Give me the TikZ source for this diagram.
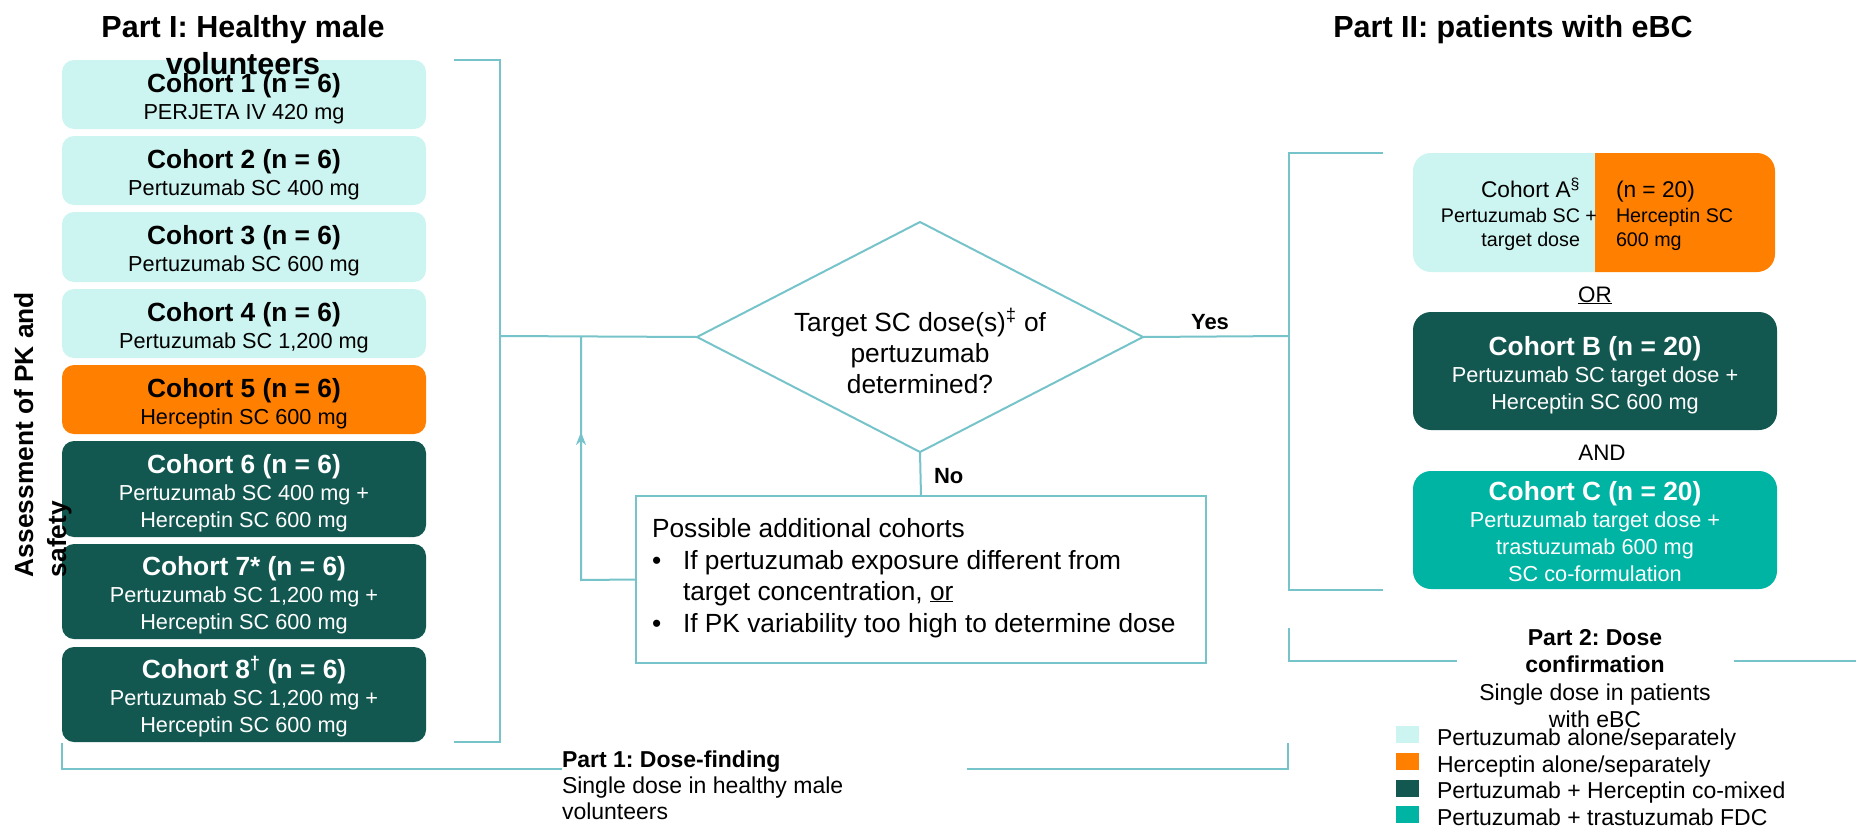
\documentclass[tikz,border=0pt]{standalone}
\usepackage{fontspec}
\setmainfont{Liberation Sans}
\usetikzlibrary{shapes.geometric,arrows.meta}
\frenchspacing
\definecolor{lightC}{HTML}{CCF4F0}
\definecolor{orangeC}{HTML}{FF7F00}
\definecolor{darkC}{HTML}{135850}
\definecolor{tealC}{HTML}{00B4A4}
\definecolor{lineC}{HTML}{76C3CA}
\newcommand\xTitle{\fontsize{30.5}{36}\selectfont\bfseries}
\newcommand\xCoh{\fontsize{26.3}{27}\selectfont\bfseries}
\newcommand\xSub{\fontsize{21.7}{27}\selectfont}
\newcommand\xDia{\fontsize{26.3}{31}\selectfont}
\newcommand\xLeg{\fontsize{23}{27}\selectfont}
\newcommand\xLegB{\fontsize{23}{27}\selectfont\bfseries}
\newcommand\xYN{\fontsize{22}{26}\selectfont\bfseries}
\newcommand\xCA{\fontsize{22.7}{25}\selectfont}
\newcommand\xCAs{\fontsize{19.7}{25}\selectfont}
\newcommand\xOR{\fontsize{22.4}{26}\selectfont}
\newcommand\xRot{\fontsize{26.3}{33}\selectfont\bfseries}
\newcommand\tstrut{\rule{0pt}{27pt}}
\newcommand\bstrut{\rule[-4.6pt]{0pt}{4.6pt}}
\begin{document}
\frenchspacing
\begin{tikzpicture}[x=1pt,y=-1pt,
  every node/.style={inner sep=0pt, outer sep=0pt},
  ln/.style={draw=lineC, line width=2pt},
  cbox/.style={rounded corners=12pt, minimum width=364pt, align=center, font=\xSub},
  rbox/.style={rounded corners=18pt, minimum width=364pt, minimum height=118pt, align=center, font=\xSub, text=white},
  swatch/.style={minimum width=23pt, minimum height=17pt}]
\useasboundingbox (0,0) rectangle (1856,830);

% ---------- Part I cohorts ----------
\node[cbox, fill=lightC, minimum height=69pt] (c1) at (244,94.5) {\tstrut{\xCoh Cohort 1 (n = 6)}\\PERJETA IV 420 mg};
\node[cbox, fill=lightC, minimum height=69pt] (c2) at (244,170.5) {\tstrut{\xCoh Cohort 2 (n = 6)}\\Pertuzumab SC 400 mg};
\node[cbox, fill=lightC, minimum height=70pt] (c3) at (244,247) {\tstrut{\xCoh Cohort 3 (n = 6)}\\Pertuzumab SC 600 mg};
\node[cbox, fill=lightC, minimum height=69pt] (c4) at (244,323.5) {\tstrut{\xCoh Cohort 4 (n = 6)}\\Pertuzumab SC 1,200 mg};
\node[cbox, fill=orangeC, minimum height=69pt] (c5) at (244,399.5) {\tstrut{\xCoh Cohort 5 (n = 6)}\\Herceptin SC 600 mg};
\node[cbox, fill=darkC, text=white, minimum height=96pt] (c6) at (244,489) {\tstrut{\xCoh Cohort 6 (n = 6)}\\Pertuzumab SC 400 mg +\\Herceptin SC 600 mg};
\node[cbox, fill=darkC, text=white, minimum height=95pt] (c7) at (244,591.5) {\tstrut{\xCoh Cohort 7* (n = 6)}\\Pertuzumab SC 1,200 mg +\\Herceptin SC 600 mg};
\node[cbox, fill=darkC, text=white, minimum height=95pt] (c8) at (244,694.5) {\tstrut{\xCoh Cohort 8\textsuperscript{†} (n = 6)}\\Pertuzumab SC 1,200 mg +\\Herceptin SC 600 mg};

% titles
\node[anchor=base, font=\xTitle] (t1a) at (243,37) {Part I: Healthy male};
\node[anchor=base, font=\xTitle] (t1b) at (243,74) {volunteers};
\node[anchor=base, font=\xTitle] (t2) at (1513,37) {Part II: patients with eBC};

% rotated side label
\node[rotate=90, anchor=base west, font=\xRot] (rot1) at (33,577) {Assessment of PK and};
\node[rotate=90, anchor=base west, font=\xRot] (rot2) at (66,577) {safety};

% ---------- left bracket ----------
\coordinate (lbt) at (454,60);
\coordinate (lbtc) at (500,60);
\coordinate (lbbc) at (500,742);
\coordinate (lbb) at (454,742);
\coordinate (lbm) at (500,336);
\draw[ln] (lbt) -- (lbtc) -- (lbbc) -- (lbb);

% ---------- decision ----------
\node[diamond, draw=lineC, line width=2pt, minimum width=446pt, minimum height=230pt] (dec) at (920,337) {};
\node[anchor=base, font=\xDia] (d1) at (920,331) {Target SC dose(s)\textsuperscript{‡} of};
\node[anchor=base, font=\xDia] (d2) at (920,362) {pertuzumab};
\node[anchor=base, font=\xDia] (d3) at (920,393) {determined?};
\draw[ln] (lbm) -- (dec.west);

% additional cohorts box
\node[draw=lineC, line width=2pt, minimum width=570pt, minimum height=167pt] (addbox) at (921,579.5) {};
\node[anchor=base west, font=\xDia] (a1) at (652,537) {Possible additional cohorts};
\node[anchor=base west, font=\xDia] (ab1) at (652,569) {\textbullet};
\node[anchor=base west, font=\xDia] (a2) at (683,569) {If pertuzumab exposure different from};
\node[anchor=base west, font=\xDia] (a3) at (683,600) {target concentration, \underline{or}};
\node[anchor=base west, font=\xDia] (ab2) at (652,632) {\textbullet};
\node[anchor=base west, font=\xDia] (a4) at (683,632) {If PK variability too high to determine dose};

\draw[ln] (dec.south) -- (addbox.north);
\node[anchor=base west, font=\xYN] (no) at (934,483) {No};

% feedback loop
\coordinate (fbc) at (581,580);
\coordinate (fbtop) at (581,336);
\coordinate (fbarr) at (581,432);
\draw[ln] (addbox.west) -- (fbc) -- (fbtop);
\draw[ln, -{Stealth[length=13pt, width=10pt, inset=4pt]}] (fbc) -- (fbarr);

% yes branch
\coordinate (rbm) at (1289,336);
\draw[ln] (dec.east) -- (rbm);
\node[anchor=base, font=\xYN] (yes) at (1210,329) {Yes};

% ---------- right bracket ----------
\coordinate (rbt) at (1383,153);
\coordinate (rbtc) at (1289,153);
\coordinate (rbbc) at (1289,590);
\coordinate (rbb) at (1383,590);
\draw[ln] (rbt) -- (rbtc) -- (rbbc) -- (rbb);

% ---------- Part II cohorts ----------
\begin{scope}
  \clip (1400,140) rectangle (1595,290);
  \fill[lightC, rounded corners=18pt] (1413,153) rectangle (1775,272);
\end{scope}
\begin{scope}
  \clip (1595,140) rectangle (1790,290);
  \fill[orangeC, rounded corners=18pt] (1413,153) rectangle (1775,272);
\end{scope}
\node[anchor=base east, font=\xCA] (cAl1) at (1580,197) {Cohort A\textsuperscript{§}};
\node[anchor=base east, font=\xCAs] (cAl2) at (1580,222) {Pertuzumab SC\rlap{ +}};
\node[anchor=base east, font=\xCAs] (cAl3) at (1580,246) {target dose};
\node[anchor=base west, font=\xCA] (cAr1) at (1616,197) {(n = 20)};
\node[anchor=base west, font=\xCAs] (cAr2) at (1616,222) {Herceptin SC};
\node[anchor=base west, font=\xCAs] (cAr3) at (1616,246) {600 mg};

\node[anchor=base, font=\xOR] (or) at (1595,302) {\underline{OR}};
\node[rbox, fill=darkC] (cB) at (1595,371) {\tstrut{\xCoh Cohort B (n = 20)}\\Pertuzumab SC target dose +\\Herceptin SC 600 mg};
\node[anchor=base, font=\xOR] (and) at (1602,460) {AND};
\node[rbox, fill=tealC] (cC) at (1595,530) {\tstrut{\xCoh Cohort C (n = 20)}\\Pertuzumab target dose +\\trastuzumab 600 mg\\SC co-formulation\bstrut};

% ---------- Part 2 bracket ----------
\coordinate (p2a) at (1289,628);
\coordinate (p2b) at (1289,661);
\coordinate (p2c) at (1457,661);
\coordinate (p2d) at (1734,661);
\coordinate (p2e) at (1856,661);
\draw[ln] (p2a) -- (p2b) -- (p2c);
\draw[ln] (p2d) -- (p2e);
\node[anchor=base, font=\xLegB] (p2t1) at (1595,645) {Part 2: Dose};
\node[anchor=base, font=\xLegB] (p2t2) at (1595,672) {confirmation};
\node[anchor=base, font=\xLeg] (p2t3) at (1595,700) {Single dose in patients};
\node[anchor=base, font=\xLeg] (p2t4) at (1595,727) {with eBC};

% ---------- Part 1 bracket ----------
\coordinate (p1a) at (62,743);
\coordinate (p1b) at (62,769);
\coordinate (p1c) at (562,769);
\coordinate (p1d) at (967,769);
\coordinate (p1e) at (1288,769);
\coordinate (p1f) at (1288,743);
\draw[ln] (p1a) -- (p1b) -- (p1c);
\draw[ln] (p1d) -- (p1e) -- (p1f);
\node[anchor=base west, font=\xLegB] (p1t1) at (562,767) {Part 1: Dose-finding};
\node[anchor=base west, font=\xLeg] (p1t2) at (562,793) {Single dose in healthy male};
\node[anchor=base west, font=\xLeg] (p1t3) at (562,819) {volunteers};

% ---------- legend ----------
\node[swatch, fill=lightC] (lg1) at (1407.5,734.5) {};
\node[swatch, fill=orangeC] (lg2) at (1407.5,761.5) {};
\node[swatch, fill=darkC] (lg3) at (1407.5,788.5) {};
\node[swatch, fill=tealC] (lg4) at (1407.5,814.5) {};
\node[anchor=base west, font=\xLeg] (lt1) at (1437,745) {Pertuzumab alone/separately};
\node[anchor=base west, font=\xLeg] (lt2) at (1437,772) {Herceptin alone/separately};
\node[anchor=base west, font=\xLeg] (lt3) at (1437,798) {Pertuzumab + Herceptin co-mixed};
\node[anchor=base west, font=\xLeg] (lt4) at (1437,825) {Pertuzumab + trastuzumab FDC};
\end{tikzpicture}
\end{document}
